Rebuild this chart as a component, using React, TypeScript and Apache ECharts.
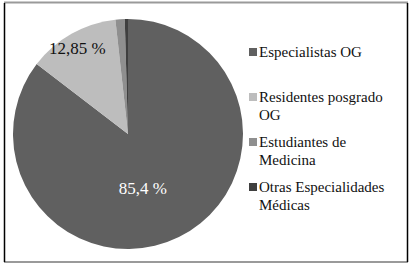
import React, { useEffect, useRef } from "react";
import * as echarts from "echarts";

const categories = [
  "Especialistas OG",
  "Residentes posgrado OG",
  "Estudiantes de Medicina",
  "Otras Especialidades Médicas",
];
const legendLabels = [
  "Especialistas OG",
  "Residentes posgrado\nOG",
  "Estudiantes de\nMedicina",
  "Otras Especialidades\nMédicas",
];
const values = [85.4, 12.85, 1.3, 0.45];
const showLabel = [true, true, false, false];
const colors = ["#606060", "#bdbdbd", "#8f8f8f", "#3f3f3f"];
const labelColors = ["#ffffff", "#111111", "#111111", "#111111"];

const SERIF = "Liberation Serif, serif";

export default function App() {
  const ref = useRef<HTMLDivElement>(null);
  useEffect(() => {
    if (!ref.current) return;
    const chart = echarts.init(ref.current, undefined, { renderer: "svg" });
    const legendGraphics: any[] = [];
    legendLabels.forEach((name, i) => {
      const cy = 52 + i * 45;
      legendGraphics.push({
        type: "rect",
        shape: { x: 249, y: cy - 4, width: 8, height: 8 },
        style: { fill: colors[i] },
      });
      legendGraphics.push({
        type: "text",
        x: 259,
        y: cy - 9,
        style: {
          text: name,
          fontFamily: SERIF,
          fontSize: 15,
          lineHeight: 18,
          fill: "#111111",
          verticalAlign: "top",
        },
      });
    });
    chart.setOption({
      animation: false,
      backgroundColor: "#ffffff",
      textStyle: { fontFamily: SERIF },
      graphic: [
        { type: "line", shape: { x1: 4, y1: 2.5, x2: 408, y2: 2.5 }, style: { stroke: "#9a9a9a", lineWidth: 2 } },
        { type: "line", shape: { x1: 4, y1: 262, x2: 408, y2: 262 }, style: { stroke: "#9a9a9a", lineWidth: 2 } },
        { type: "line", shape: { x1: 4.5, y1: 3, x2: 4.5, y2: 262 }, style: { stroke: "#000000", lineWidth: 1.5 } },
        { type: "line", shape: { x1: 407.5, y1: 3, x2: 407.5, y2: 262 }, style: { stroke: "#000000", lineWidth: 1.5 } },
        ...legendGraphics,
      ],
      series: [
        {
          type: "pie",
          center: [128, 134],
          radius: 115,
          startAngle: 90,
          clockwise: true,
          avoidLabelOverlap: false,
          labelLine: { show: false },
          itemStyle: { borderWidth: 0 },
          emphasis: { disabled: true },
          data: categories.map((name, i) => ({
            name,
            value: values[i],
            itemStyle: { color: colors[i] },
            label: {
              show: showLabel[i],
              position: "inside",
              color: labelColors[i],
              fontFamily: SERIF,
              fontSize: 17,
              formatter: (p: any) => String(p.value).replace(".", ",") + " %",
            },
          })),
          labelLayout: (params: any) => {
            if (params.dataIndex === 0) return { dx: -12, dy: 0 };
            if (params.dataIndex === 1) return { dx: -21, dy: -33 };
            return {};
          },
        },
      ],
    });
    return () => chart.dispose();
  }, []);
  return (
    <div
      ref={ref}
      style={{ position: "fixed", left: 0, top: 0, width: 412, height: 266 }}
    />
  );
}
